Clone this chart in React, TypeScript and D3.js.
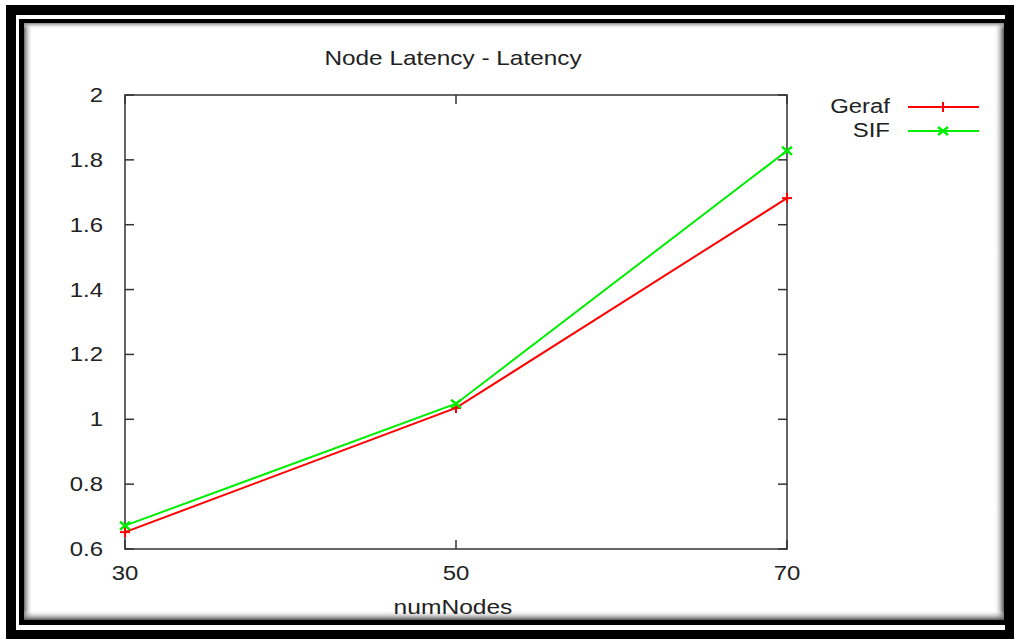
import React from "react";
import * as d3 from "d3";

const nodes = [30, 50, 70];
const geraf = [0.652, 1.035, 1.682];
const sif = [0.672, 1.048, 1.828];
const yTicks = [0.6, 0.8, 1, 1.2, 1.4, 1.6, 1.8, 2];
const xTicks = [30, 50, 70];

const W = 1014, H = 639;
const L = 125, R = 787, T = 95, B = 549;

const font = "'Liberation Sans', Arial, sans-serif";

function Txt(props: { x: number; y: number; anchor?: string; sx?: number; children: React.ReactNode }) {
  const sx = props.sx ?? 1.14;
  return (
    <text
      transform={`translate(${props.x},${props.y}) scale(${sx},1)`}
      textAnchor={props.anchor || "middle"}
      fontFamily={font}
      fontSize={21}
      fill="#222"
    >
      {props.children}
    </text>
  );
}

export default function App() {
  const x = d3.scaleLinear().domain([30, 70]).range([L, R]);
  const y = d3.scaleLinear().domain([0.6, 2]).range([B, T]);
  const line = d3.line<number>().x((_, i) => x(nodes[i])).y((d) => y(d));
  const tk = 9;
  const plus = (cx: number, cy: number, c: string) => (
    <g stroke={c} strokeWidth={2}>
      <line x1={cx - 5} x2={cx + 5} y1={cy} y2={cy} />
      <line x1={cx} x2={cx} y1={cy - 5} y2={cy + 5} />
    </g>
  );
  const cross = (cx: number, cy: number, c: string) => (
    <g stroke={c} strokeWidth={2.5}>
      <line x1={cx - 5} x2={cx + 5} y1={cy - 4} y2={cy + 4} />
      <line x1={cx - 5} x2={cx + 5} y1={cy + 4} y2={cy - 4} />
    </g>
  );
  return (
    <svg width={W} height={H} style={{ position: "absolute", left: 0, top: 0 }}>
      <defs>
        <linearGradient id="gl" x1="0" x2="1" y1="0" y2="0">
          <stop offset="0" stopColor="#666" />
          <stop offset="1" stopColor="#fff" stopOpacity="0" />
        </linearGradient>
        <linearGradient id="gr" x1="1" x2="0" y1="0" y2="0">
          <stop offset="0" stopColor="#555" />
          <stop offset="1" stopColor="#fff" stopOpacity="0" />
        </linearGradient>
        <linearGradient id="gt" x1="0" x2="0" y1="0" y2="1">
          <stop offset="0" stopColor="#888" />
          <stop offset="1" stopColor="#fff" stopOpacity="0" />
        </linearGradient>
        <linearGradient id="gb" x1="0" x2="0" y1="1" y2="0">
          <stop offset="0" stopColor="#555" />
          <stop offset="1" stopColor="#fff" stopOpacity="0" />
        </linearGradient>
      </defs>
      <rect x={0} y={0} width={W} height={H} fill="#fff" />
      <rect x={6} y={5} width={W - 6} height={H - 5} fill="#000" />
      <rect x={16} y={15} width={989} height={615} fill="#fff" />
      <rect x={19} y={19} width={989} height={606} fill="#000" />
      <rect x={24} y={23} width={980} height={597} fill="#fff" />
      <rect x={24} y={23} width={9} height={597} fill="url(#gl)" />
      <rect x={994} y={23} width={10} height={597} fill="url(#gr)" />
      <rect x={24} y={23} width={980} height={6} fill="url(#gt)" />
      <rect x={24} y={610} width={980} height={10} fill="url(#gb)" />

      <Txt x={453} y={65} sx={1.16}>Node Latency - Latency</Txt>

      <rect x={L} y={T} width={R - L} height={B - T} fill="none" stroke="#333" strokeWidth={1.5} />
      {yTicks.map((t) => (
        <g key={"y" + t}>
          <line x1={L} x2={L + tk} y1={y(t)} y2={y(t)} stroke="#333" strokeWidth={1.5} />
          <line x1={R} x2={R - tk} y1={y(t)} y2={y(t)} stroke="#333" strokeWidth={1.5} />
          <Txt x={103} y={y(t) + 7} anchor="end">{t}</Txt>
        </g>
      ))}
      {xTicks.map((t) => (
        <g key={"x" + t}>
          <line x1={x(t)} x2={x(t)} y1={B} y2={B - tk} stroke="#333" strokeWidth={1.5} />
          <line x1={x(t)} x2={x(t)} y1={T} y2={T + tk} stroke="#333" strokeWidth={1.5} />
          <Txt x={x(t)} y={580}>{t}</Txt>
        </g>
      ))}
      <Txt x={453} y={614} sx={1.17}>numNodes</Txt>

      <path d={line(geraf) || ""} fill="none" stroke="#ff0000" strokeWidth={2} />
      <path d={line(sif) || ""} fill="none" stroke="#00ee00" strokeWidth={2} />
      {geraf.map((v, i) => <g key={"g" + i}>{plus(x(nodes[i]), y(v), "#ff0000")}</g>)}
      {sif.map((v, i) => <g key={"s" + i}>{cross(x(nodes[i]), y(v), "#00ee00")}</g>)}

      <Txt x={890} y={113} anchor="end">Geraf</Txt>
      <line x1={908} x2={979} y1={107} y2={107} stroke="#ff0000" strokeWidth={2} />
      {plus(943, 107, "#ff0000")}
      <Txt x={890} y={137} anchor="end">SIF</Txt>
      <line x1={908} x2={979} y1={131} y2={131} stroke="#00ee00" strokeWidth={2} />
      {cross(943, 131, "#00ee00")}
    </svg>
  );
}
